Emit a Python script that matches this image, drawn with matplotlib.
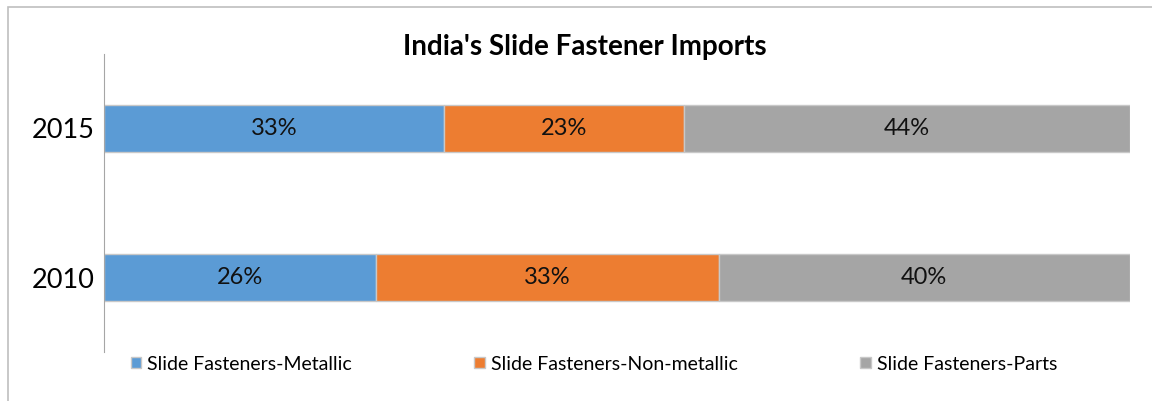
import matplotlib.pyplot as plt
from matplotlib.patches import Rectangle
import numpy as np

plt.rcParams['font.family'] = ['Lato', 'DejaVu Sans']

years = ['2010', '2015']
series = ['Slide Fasteners-Metallic', 'Slide Fasteners-Non-metallic', 'Slide Fasteners-Parts']
values = {
    'Slide Fasteners-Metallic': [26.5, 33.1],
    'Slide Fasteners-Non-metallic': [33.4, 23.4],
    'Slide Fasteners-Parts': [40.1, 43.5],
}
labels = {
    'Slide Fasteners-Metallic': ['26%', '33%'],
    'Slide Fasteners-Non-metallic': ['33%', '23%'],
    'Slide Fasteners-Parts': ['40%', '44%'],
}
colors = ['#5B9BD5', '#ED7D31', '#A5A5A5']

fig = plt.figure(figsize=(11.52, 4.01), dpi=100)
ax = fig.add_axes([104/1152, 1-352/401, (1130-104)/1152, (352-54)/401])

y = np.arange(len(years))
left = np.zeros(len(years))
for name, c in zip(series, colors):
    v = np.array(values[name])
    bars = ax.barh(y, v, left=left, height=0.32, color=c, edgecolor='#C8C8C8',
                   linewidth=1, label=name)
    for b, t in zip(bars, labels[name]):
        ax.text(b.get_x() + b.get_width()/2, b.get_y() + b.get_height()/2, t,
                ha='center', va='center', fontsize=17, color='#111111')
    left += v

ax.set_xlim(0, 100)
ax.set_ylim(-0.5, 1.5)
ax.set_yticks(y)
ax.set_yticklabels(years, fontsize=19.5)
ax.tick_params(axis='y', length=0, pad=7)
ax.set_xticks([])
for s in ['top', 'right', 'bottom']:
    ax.spines[s].set_visible(False)
ax.spines['left'].set_color('#A6A6A6')

fig.text(585/1152, 1-47/401, "India's Slide Fastener Imports", ha='center', va='center',
         fontsize=20, fontweight='bold')

fig.legend(loc='center left', bbox_to_anchor=(113/1152, 1-364/401), ncol=3, frameon=False,
           fontsize=14, handlelength=0.55, handleheight=0.55, handletextpad=0.3,
           columnspacing=6.3)

# chart border (left and top)
fig.add_artist(Rectangle((8/1152, -0.1), 1.2, 1.1 - 7/401, transform=fig.transFigure,
                         fill=False, edgecolor='#BFBFBF', linewidth=1.2))

fig.savefig('out.png', dpi=100)
